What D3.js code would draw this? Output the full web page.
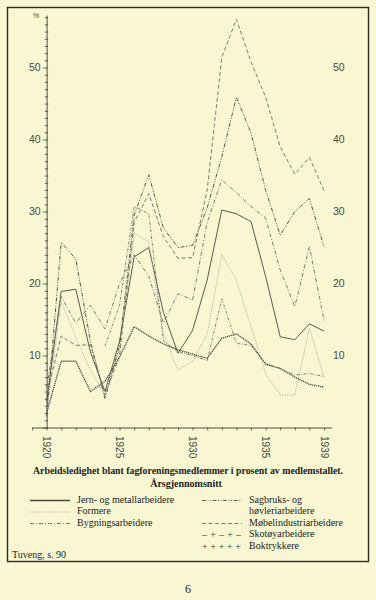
<!DOCTYPE html>
<html>
<head>
<meta charset="utf-8">
<title>Arbeidsledighet 1920-1939</title>
<script src="https://d3js.org/d3.v7.min.js"></script>
<style>
  body { margin: 0; background: #f8f7d2; }
  svg { display: block; }
</style>
</head>
<body>
<script>
// years and unemployment in percent
const years = d3.range(1920, 1940);
const jern     = [3.5, 18.9, 19.2, 10.5, 5.0, 12.0, 23.7, 25.0, 16.0, 10.3, 13.5, 20.5, 30.2, 29.7, 28.6, 21.0, 12.6, 12.2, 14.4, 13.4];
const formere  = [2.0, 17.5, 12.5, 8.0, 4.5, 11.0, 27.0, 25.8, 13.0, 8.0, 9.2, 13.0, 24.0, 20.5, 14.0, 7.5, 4.5, 4.5, 13.8, 7.0];
const bygning  = [5.5, 18.2, 14.5, 17.0, 13.7, 20.0, 24.0, 21.0, 14.5, 18.6, 17.7, 28.5, 34.4, 32.6, 30.7, 29.1, 21.9, 16.8, 25.1, 14.9];
const sagbruk  = [1.5, 25.7, 23.4, 12.0, 4.0, 11.5, 29.5, 35.1, 27.7, 25.0, 25.3, 30.5, 37.6, 45.9, 40.9, 33.0, 26.7, 30.0, 31.8, 25.1];
const mobel    = [4.5, 12.7, 11.4, 11.5, 4.5, 10.0, 28.5, 32.5, 26.5, 23.5, 23.6, 33.0, 51.4, 56.7, 50.8, 45.9, 39.0, 35.2, 37.5, 32.9];
const skotoy   = [null, null, null, null, 11.3, 17.0, 30.7, 29.7, 12.0, 10.5, 10.0, 9.3, 17.9, 11.7, 11.4, 8.9, 8.2, 7.3, 7.5, 7.1];
const boktrykk = [2.0, 9.2, 9.2, 5.0, 6.4, 9.8, 14.0, 12.7, 11.6, 10.8, 10.2, 9.6, 12.4, 13.0, 11.6, 8.8, 8.2, 7.0, 6.0, 5.6];

const yearLabels = [1920, 1925, 1930, 1935, 1939];
const pctLabels = [10, 20, 30, 40, 50];

const series = [
  { name: ["Jern- og metallarbeidere"], values: jern, dash: null, color: "#4a4a41", width: 0.9 },
  { name: ["Formere"], values: formere, dash: "1,1.3", color: "#a9a99c", width: 1 },
  { name: ["Bygningsarbeidere"], values: bygning, dash: "4,2,1,2", color: "#6c6c62", width: 0.9 },
  { name: ["Sagbruks- og", "høvleriarbeidere"], values: sagbruk, dash: "4,1.5,1,1.5,1,1.5", color: "#55554c", width: 1 },
  { name: ["Møbelindustriarbeidere"], values: mobel, dash: "4,2.5", color: "#6e6e64", width: 0.9 },
  { name: ["Skotøyarbeidere"], values: skotoy, dash: "3,1.5,1,1.5", color: "#77776c", width: 0.9, sym: "– + – + –" },
  { name: ["Boktrykkere"], values: boktrykk, dash: "1.2,0.8", color: "#4e4e45", width: 1.4, sym: "+ + + + +" }
];

const W = 376, H = 600;
const ink = "#3a3a33";

const svg = d3.select("body").append("svg")
    .attr("width", W)
    .attr("height", H);

svg.append("rect").attr("width", W).attr("height", H).attr("fill", "#f8f7d2");

// frame round the figure
svg.append("rect")
    .attr("x", 7.5).attr("y", 7.5)
    .attr("width", 361).attr("height", 554)
    .attr("fill", "none")
    .attr("stroke", "#2c2c26")
    .attr("stroke-width", 1.4);

const x = d3.scaleLinear().domain([1919, 1939.5]).range([32, 331.3]);
const y = d3.scaleLinear().domain([0, 57.3]).range([427.5, 15]);

// y axis with a tick for every percent
const yAxis = svg.append("g")
    .attr("transform", `translate(${x(1920)},0)`)
    .style("color", ink)
    .call(d3.axisLeft(y).tickValues(d3.range(0, 58)).tickSize(2).tickSizeOuter(0).tickFormat(""));
yAxis.selectAll(".tick line").attr("x1", 1.5).attr("stroke-width", 0.7);
yAxis.selectAll(".tick line").filter(d => d % 10 === 0).attr("x2", -4);
yAxis.select(".domain").attr("stroke-width", 0.9);

// tick labels both sides
svg.append("g")
    .attr("transform", `translate(${x(1920)},0)`)
    .call(d3.axisLeft(y).tickValues(pctLabels).tickSize(0).tickPadding(6))
    .call(g => g.select(".domain").remove())
    .selectAll("text")
    .attr("font-family", "Liberation Sans, Arial, sans-serif")
    .attr("font-size", 10.5)
    .attr("fill", "#4a4a42");

svg.append("g")
    .attr("transform", "translate(331,0)")
    .call(d3.axisRight(y).tickValues(pctLabels).tickSize(0).tickPadding(2))
    .call(g => g.select(".domain").remove())
    .selectAll("text")
    .attr("font-family", "Liberation Sans, Arial, sans-serif")
    .attr("font-size", 10.5)
    .attr("fill", "#4a4a42");

svg.append("text")
    .attr("x", 36).attr("y", 18)
    .attr("text-anchor", "middle")
    .attr("font-family", "Liberation Sans, Arial, sans-serif")
    .attr("font-size", 7)
    .attr("fill", "#4a4a42")
    .text("%");

// x axis
const xAxis = svg.append("g")
    .attr("transform", `translate(0,${y(0)})`)
    .style("color", ink)
    .call(d3.axisBottom(x).tickValues(d3.range(1919, 1940)).tickSize(3).tickSizeOuter(0).tickFormat(""));
xAxis.selectAll(".tick line").attr("stroke-width", 0.7);
xAxis.select(".domain").attr("stroke-width", 0.9);

svg.selectAll(".yr")
    .data(yearLabels)
    .join("text")
    .attr("class", "yr")
    .attr("transform", d => `translate(${x(d)},436) rotate(90)`)
    .attr("dy", "0.35em")
    .attr("font-family", "Liberation Sans, Arial, sans-serif")
    .attr("font-size", 10)
    .attr("fill", "#4a4a42")
    .text(d => d);

// the lines
const line = d3.line()
    .defined(d => d[1] != null)
    .x(d => x(d[0]))
    .y(d => y(d[1]));

svg.append("g")
    .selectAll("path")
    .data(series)
    .join("path")
    .attr("d", s => line(years.map((yr, i) => [yr, s.values[i]])))
    .attr("fill", "none")
    .attr("stroke", s => s.color)
    .attr("stroke-width", s => s.width)
    .attr("stroke-dasharray", s => s.dash)
    .attr("stroke-linejoin", "round");

// caption
svg.append("text")
    .attr("x", 188).attr("y", 474)
    .attr("text-anchor", "middle")
    .attr("font-family", "Liberation Serif, Times New Roman, serif")
    .attr("font-weight", "bold")
    .attr("font-size", 10)
    .attr("textLength", 310)
    .attr("lengthAdjust", "spacingAndGlyphs")
    .attr("fill", "#22221d")
    .text("Arbeidsledighet blant fagforeningsmedlemmer i prosent av medlemstallet.");

svg.append("text")
    .attr("x", 186).attr("y", 487)
    .attr("text-anchor", "middle")
    .attr("font-family", "Liberation Serif, Times New Roman, serif")
    .attr("font-weight", "bold")
    .attr("font-size", 10)
    .attr("fill", "#22221d")
    .text("Årsgjennomsnitt");

// legend: three entries left, four right (Sagbruks takes two rows)
const legendRows = [
  { s: series[0], x0: 30, row: 0 },
  { s: series[1], x0: 30, row: 1 },
  { s: series[2], x0: 30, row: 2 },
  { s: series[3], x0: 202, row: 0 },
  { s: series[4], x0: 202, row: 2 },
  { s: series[5], x0: 202, row: 3 },
  { s: series[6], x0: 202, row: 4 }
];
const rowY = r => 502.5 + r * 11.5;

const leg = svg.append("g")
    .selectAll("g")
    .data(legendRows)
    .join("g");

leg.filter(d => !d.s.sym)
    .append("line")
    .attr("x1", d => d.x0).attr("x2", d => d.x0 + 40)
    .attr("y1", d => rowY(d.row) - 2).attr("y2", d => rowY(d.row) - 2)
    .attr("stroke", d => d.s.color)
    .attr("stroke-width", d => d.s.dash ? 0.9 : 1.6)
    .attr("stroke-dasharray", d => d.s.dash);

leg.filter(d => d.s.sym)
    .append("text")
    .attr("x", d => d.x0).attr("y", d => rowY(d.row) + 1)
    .attr("font-family", "Liberation Serif, Times New Roman, serif")
    .attr("font-size", 10)
    .attr("textLength", 39)
    .attr("fill", "#3a3a33")
    .text(d => d.s.sym);

leg.append("text")
    .attr("x", d => d.x0 + 47)
    .attr("y", d => rowY(d.row))
    .attr("font-family", "Liberation Serif, Times New Roman, serif")
    .attr("font-size", 10)
    .attr("fill", "#22221d")
    .selectAll("tspan")
    .data(d => d.s.name)
    .join("tspan")
    .attr("x", function () { return d3.select(this.parentNode).attr("x"); })
    .attr("dy", (t, i) => i === 0 ? 0 : 11.5)
    .text(t => t);

svg.append("text")
    .attr("x", 12).attr("y", 558)
    .attr("font-family", "Liberation Serif, Times New Roman, serif")
    .attr("font-size", 10)
    .attr("fill", "#22221d")
    .text("Tuveng, s. 90");

svg.append("text")
    .attr("x", 188).attr("y", 593)
    .attr("text-anchor", "middle")
    .attr("font-family", "Liberation Serif, Times New Roman, serif")
    .attr("font-size", 12)
    .attr("fill", "#22221d")
    .text("6");
</script>
</body>
</html>
